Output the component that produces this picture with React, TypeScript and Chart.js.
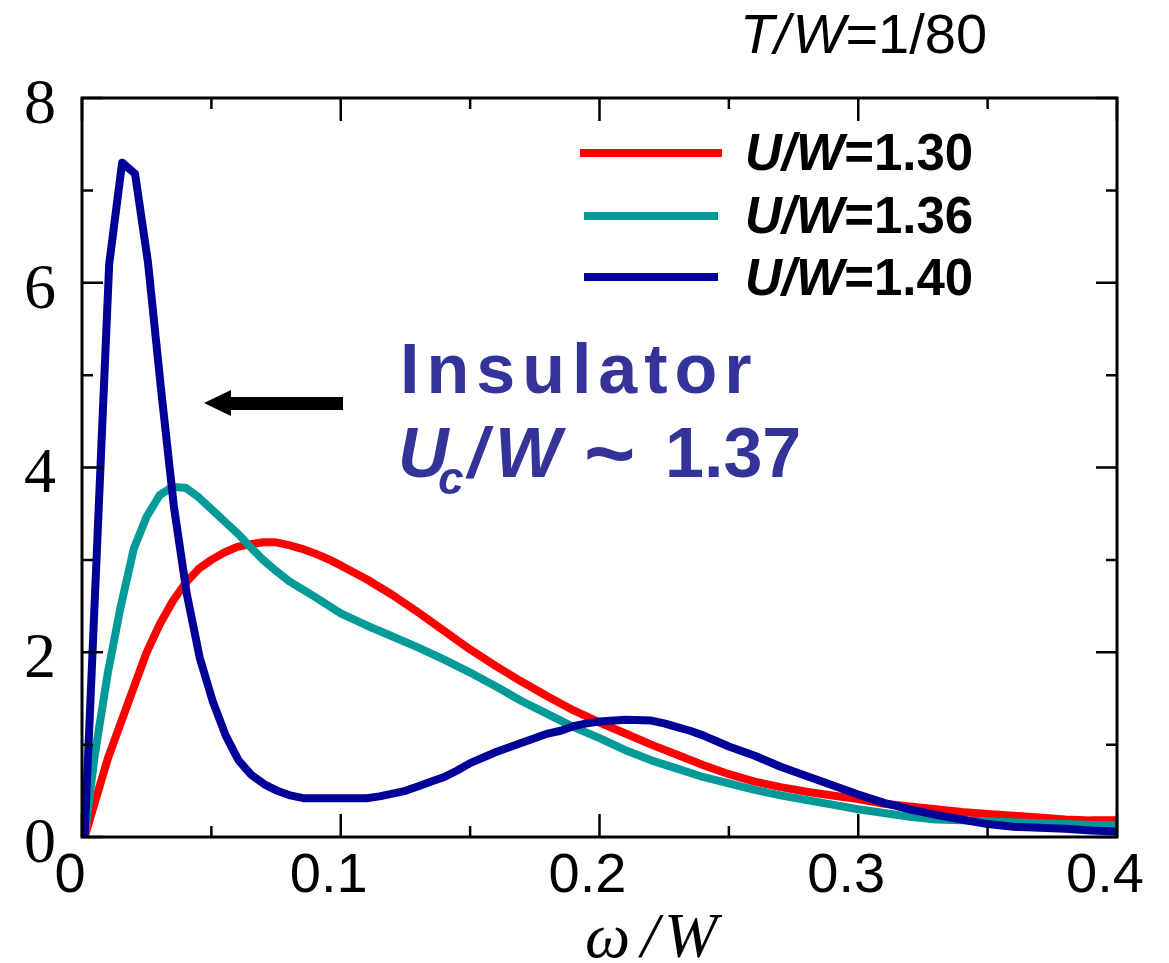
import React, { useEffect, useRef } from 'react';
import { Chart, registerables } from 'chart.js';

Chart.register(...registerables);

// ---- data ----
const omegaRed = [0.001, 0.01, 0.02, 0.025, 0.03, 0.035, 0.04, 0.045, 0.05, 0.055, 0.06, 0.065, 0.07, 0.075, 0.08, 0.085, 0.09, 0.095, 0.1, 0.11, 0.12, 0.13, 0.14, 0.15, 0.16, 0.17, 0.18, 0.19, 0.2, 0.21, 0.22, 0.23, 0.24, 0.25, 0.26, 0.27, 0.28, 0.29, 0.3, 0.31, 0.32, 0.33, 0.34, 0.35, 0.36, 0.37, 0.38, 0.39, 0.4];
const dosRed = [0, 0.85, 1.62, 2.0, 2.3, 2.55, 2.75, 2.9, 3.0, 3.08, 3.14, 3.17, 3.19, 3.19, 3.16, 3.12, 3.07, 3.01, 2.94, 2.79, 2.62, 2.43, 2.23, 2.03, 1.85, 1.68, 1.52, 1.37, 1.24, 1.12, 1.0, 0.89, 0.78, 0.68, 0.6, 0.54, 0.49, 0.45, 0.41, 0.36, 0.33, 0.3, 0.27, 0.25, 0.23, 0.21, 0.19, 0.18, 0.18];

const omegaTeal = [0.001, 0.005, 0.01, 0.015, 0.02, 0.025, 0.03, 0.035, 0.04, 0.045, 0.05, 0.055, 0.06, 0.065, 0.07, 0.075, 0.08, 0.09, 0.1, 0.11, 0.12, 0.13, 0.14, 0.15, 0.16, 0.17, 0.18, 0.19, 0.2, 0.21, 0.22, 0.23, 0.24, 0.25, 0.26, 0.27, 0.28, 0.29, 0.3, 0.31, 0.32, 0.33, 0.34, 0.35, 0.36, 0.37, 0.38, 0.39, 0.4];
const dosTeal = [0, 0.9, 1.78, 2.5, 3.12, 3.47, 3.7, 3.79, 3.78, 3.68, 3.55, 3.42, 3.29, 3.14, 3.0, 2.88, 2.77, 2.6, 2.42, 2.29, 2.17, 2.05, 1.92, 1.78, 1.63, 1.47, 1.33, 1.19, 1.07, 0.94, 0.83, 0.74, 0.65, 0.58, 0.51, 0.45, 0.4, 0.35, 0.3, 0.26, 0.22, 0.19, 0.18, 0.17, 0.16, 0.15, 0.14, 0.13, 0.13];

const omegaBlue = [0.001, 0.0105, 0.0155, 0.0205, 0.0255, 0.0305, 0.0355, 0.0405, 0.0455, 0.0505, 0.0555, 0.0605, 0.0655, 0.0705, 0.0755, 0.0805, 0.0855, 0.09, 0.1, 0.11, 0.115, 0.12, 0.125, 0.13, 0.135, 0.14, 0.145, 0.15, 0.16, 0.17, 0.18, 0.185, 0.19, 0.195, 0.2, 0.21, 0.22, 0.225, 0.23, 0.235, 0.24, 0.25, 0.26, 0.27, 0.28, 0.29, 0.3, 0.31, 0.32, 0.33, 0.34, 0.35, 0.36, 0.37, 0.38, 0.39, 0.4];
const dosBlue = [0, 6.2, 7.3, 7.18, 6.22, 4.86, 3.58, 2.63, 1.94, 1.47, 1.1, 0.83, 0.67, 0.57, 0.5, 0.45, 0.42, 0.42, 0.42, 0.42, 0.44, 0.47, 0.5, 0.55, 0.6, 0.65, 0.72, 0.8, 0.92, 1.02, 1.12, 1.15, 1.2, 1.23, 1.25, 1.27, 1.26, 1.23, 1.19, 1.15, 1.1, 0.98, 0.88, 0.76, 0.66, 0.56, 0.46, 0.37, 0.3, 0.24, 0.19, 0.14, 0.11, 0.1, 0.09, 0.07, 0.06];

const seriesValues = ['1.30', '1.36', '1.40'];
const seriesColors = ['#ff0000', '#009b99', '#000099'];
const yMinorTicks = [1, 3, 5, 7];
const xMinorTicks = [0.05, 0.15, 0.25, 0.35];
const tempLabel = '1/80';
const insulatorLabel = 'Insulator';
const ucValue = '1.37';

const SANS = '"Liberation Sans", Arial, sans-serif';
const SERIF = '"Liberation Serif", "Times New Roman", serif';
const INK = '#000000';
const NAVY = '#333399';

type Seg = [string, string];

function drawSegs(ctx: CanvasRenderingContext2D, segs: Seg[], x: number, y: number) {
  let cx = x;
  for (const [text, font] of segs) {
    ctx.font = font;
    ctx.fillText(text, cx, y);
    cx += ctx.measureText(text).width;
  }
}

const decorPlugin = {
  id: 'decor',
  afterDraw(chart: any) {
    const ctx: CanvasRenderingContext2D = chart.ctx;
    const xs = chart.scales.x;
    const ys = chart.scales.y;
    const { left, right, top, bottom } = chart.chartArea;
    ctx.save();
    // frame
    ctx.strokeStyle = INK;
    ctx.lineWidth = 3;
    ctx.strokeRect(left, top, right - left, bottom - top);
    // ticks
    ctx.lineWidth = 2.5;
    ctx.beginPath();
    ys.ticks.forEach((t: any) => {
      const p = ys.getPixelForValue(t.value);
      ctx.moveTo(left, p); ctx.lineTo(left + 21, p);
      ctx.moveTo(right, p); ctx.lineTo(right - 21, p);
    });
    yMinorTicks.forEach((v) => {
      const p = ys.getPixelForValue(v);
      ctx.moveTo(left, p); ctx.lineTo(left + 11, p);
      ctx.moveTo(right, p); ctx.lineTo(right - 11, p);
    });
    xs.ticks.forEach((t: any) => {
      const p = xs.getPixelForValue(t.value);
      ctx.moveTo(p, bottom); ctx.lineTo(p, bottom - 23);
      ctx.moveTo(p, top); ctx.lineTo(p, top + 23);
    });
    xMinorTicks.forEach((v) => {
      const p = xs.getPixelForValue(v);
      ctx.moveTo(p, bottom); ctx.lineTo(p, bottom - 11);
      ctx.moveTo(p, top); ctx.lineTo(p, top + 11);
    });
    ctx.stroke();

    // x-axis title  ω/W
    ctx.fillStyle = INK;
    ctx.textBaseline = 'alphabetic';
    ctx.textAlign = 'left';
    ctx.font = `italic 64px ${SERIF}`;
    ctx.fillText('ω', 585, 957);
    ctx.fillText('/', 641, 957);
    ctx.fillText('W', 664, 957);

    // T/W=1/80
    drawSegs(ctx, [
      ['T', `italic 56px ${SANS}`],
      ['/', `italic 56px ${SANS}`],
      [' ', `10px ${SANS}`],
      ['W', `italic 56px ${SANS}`],
      ['=' + tempLabel, `56px ${SANS}`],
    ], 740, 53);

    // legend
    const legendY = [153, 216, 277];
    const legendX0 = [580, 584, 584];
    const legendX1 = [722, 718, 718];
    const legendBase = [170, 233, 295];
    for (let i = 0; i < 3; i++) {
      ctx.strokeStyle = seriesColors[i];
      ctx.lineWidth = 8;
      ctx.beginPath();
      ctx.moveTo(legendX0[i], legendY[i]);
      ctx.lineTo(legendX1[i], legendY[i]);
      ctx.stroke();
      ctx.fillStyle = INK;
      drawSegs(ctx, [
        ['U', `italic bold 51px ${SANS}`],
        ['/', `italic bold 51px ${SANS}`],
        ['W', `italic bold 51px ${SANS}`],
        ['=' + seriesValues[i], `bold 51px ${SANS}`],
      ], 745, legendBase[i]);
    }

    // arrow
    ctx.fillStyle = INK;
    ctx.beginPath();
    ctx.moveTo(204, 403);
    ctx.lineTo(231, 390);
    ctx.lineTo(231, 397);
    ctx.lineTo(343, 397);
    ctx.lineTo(343, 410);
    ctx.lineTo(231, 410);
    ctx.lineTo(231, 416);
    ctx.closePath();
    ctx.fill();

    // Insulator annotation
    ctx.fillStyle = NAVY;
    (ctx as any).letterSpacing = '7px';
    ctx.font = `bold 70px ${SANS}`;
    ctx.fillText(insulatorLabel, 400, 393);
    (ctx as any).letterSpacing = '0px';
    ctx.font = `italic bold 70px ${SANS}`;
    ctx.fillText('U', 398, 477);
    ctx.font = `italic bold 46px ${SANS}`;
    ctx.fillText('c', 438, 494);
    ctx.font = `italic bold 70px ${SANS}`;
    ctx.fillText('/', 468, 477);
    ctx.fillText('W', 495, 477);
    ctx.font = `bold 88px ${SANS}`;
    ctx.fillText('~', 584, 483);
    ctx.font = `bold 70px ${SANS}`;
    ctx.fillText(ucValue, 665, 477);
    ctx.restore();
  },
};

export default function App() {
  const ref = useRef<HTMLCanvasElement | null>(null);
  useEffect(() => {
    if (!ref.current) return;
    const mk = (xs: number[], ys: number[]) => xs.map((x, i) => ({ x, y: ys[i] }));
    const chart = new Chart(ref.current, {
      type: 'line',
      data: {
        datasets: [
          { label: 'U/W=' + seriesValues[0], data: mk(omegaRed, dosRed), borderColor: seriesColors[0], order: 3 },
          { label: 'U/W=' + seriesValues[1], data: mk(omegaTeal, dosTeal), borderColor: seriesColors[1], order: 2 },
          { label: 'U/W=' + seriesValues[2], data: mk(omegaBlue, dosBlue), borderColor: seriesColors[2], order: 1 },
        ].map((d) => ({
          ...d,
          borderWidth: 8,
          pointRadius: 0,
          tension: 0,
          fill: false,
          borderJoinStyle: 'round' as const,
          borderCapStyle: 'butt' as const,
        })),
      },
      options: {
        animation: false,
        responsive: false,
        maintainAspectRatio: false,
        devicePixelRatio: 1,
        layout: { padding: { top: 98, right: 52, left: 0, bottom: 0 } },
        plugins: { legend: { display: false }, tooltip: { enabled: false }, title: { display: false } },
        scales: {
          x: {
            type: 'linear',
            min: 0,
            max: 0.4,
            grid: { display: false, drawTicks: false },
            border: { display: false },
            ticks: {
              stepSize: 0.1,
              color: INK,
              padding: 6,
              labelOffset: -12,
              maxRotation: 0,
              autoSkip: false,
              font: { family: SANS, size: 56 },
              callback: (v: any) => (Number(v) === 0 ? '0' : Number(v).toFixed(1)),
            },
            afterFit: (s: any) => { s.height = 126; },
          },
          y: {
            min: 0,
            max: 8,
            grid: { display: false, drawTicks: false },
            border: { display: false },
            ticks: {
              stepSize: 2,
              color: INK,
              padding: 26,
              labelOffset: 8,
              font: { family: SERIF, size: 64 },
              callback: (v: any) => String(v),
            },
            afterFit: (s: any) => { s.width = 82; },
          },
        },
      },
      plugins: [decorPlugin],
    } as any);
    return () => chart.destroy();
  }, []);
  return (
    <div style={{ position: 'absolute', left: 0, top: 0, width: 1169, height: 963, background: '#fff' }}>
      <canvas ref={ref} width={1169} height={963} style={{ display: 'block' }} />
    </div>
  );
}
